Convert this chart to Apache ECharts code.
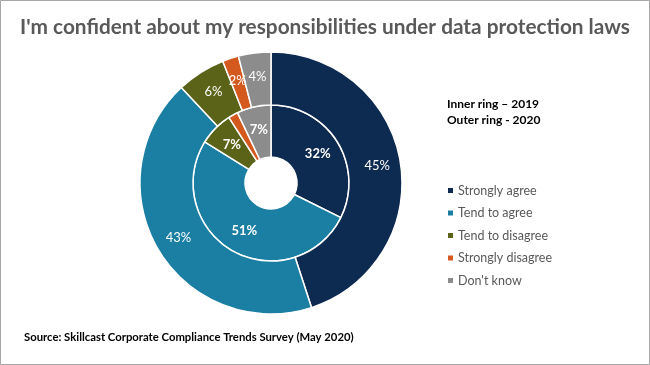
<!DOCTYPE html>
<html><head><meta charset="utf-8">
<script src="https://cdn.jsdelivr.net/npm/echarts@6/dist/echarts.min.js"></script>
<style>html,body{margin:0;padding:0;background:#fff}#c{width:650px;height:365px}</style>
</head><body><div id="c"></div>
<script>
const categories = ['Strongly agree', 'Tend to agree', 'Tend to disagree', 'Strongly disagree', "Don't know"];
const values2019 = [32, 51, 7, 2, 7];
const values2020 = [45, 43, 6, 2, 4];
const colors = ['#0d2a50', '#1a7fa3', '#5a6317', '#d4591f', '#8c8c8c'];

const chart = echarts.init(document.getElementById('c'), null, {renderer: 'canvas'});
const font = 'Lato, "Open Sans", sans-serif';
function mk(vals) { return categories.map((n, i) => ({name: n, value: vals[i]})); }
chart.setOption({
  animation: false,
  color: colors,
  title: {
    text: "I'm confident about my responsibilities under data protection laws",
    left: 'center', top: 12,
    textStyle: {fontFamily: font, fontSize: 20.8, fontWeight: 'bold', color: '#595959'}
  },
  legend: {
    orient: 'vertical', left: 441, top: 179,
    icon: 'rect', itemWidth: 7, itemHeight: 7, itemGap: 9.5,
    textStyle: {fontFamily: font, fontSize: 12.5, color: '#595959', padding: [0,0,0,-1]},
    data: categories, selectedMode: false
  },
  graphic: [
    {type: 'rect', shape: {x: 0.5, y: 0.5, width: 649, height: 364}, style: {fill: 'none', stroke: '#a6a6a6', lineWidth: 1}},
    {type: 'text', left: 447, top: 96, style: {text: 'Inner ring \u2013 2019\nOuter ring - 2020', fontFamily: font, fontSize: 12, fontWeight: 'bold', fill: '#000', lineHeight: 16}},
    {type: 'text', left: 24, top: 332, style: {text: 'Source: Skillcast Corporate Compliance Trends Survey (May 2020)', fontFamily: font, fontSize: 11.3, fontWeight: 'bold', fill: '#000'}}
  ],
  series: [
    {
      type: 'pie', name: '2019', center: [271, 183], radius: [26, 78],
      startAngle: 90, clockwise: true, avoidLabelOverlap: false,
      itemStyle: {borderColor: '#fff', borderWidth: 1.5},
      label: {position: 'inside', formatter: '{c}%', color: '#fff', fontFamily: font, fontSize: 13, fontWeight: 'bold'},
      labelLine: {show: false},
      data: mk(values2019)
    },
    {
      type: 'pie', name: '2020', center: [271, 183], radius: [78, 131],
      startAngle: 90, clockwise: true, avoidLabelOverlap: false,
      itemStyle: {borderColor: '#fff', borderWidth: 1.5},
      label: {position: 'inside', formatter: '{c}%', color: '#fff', fontFamily: font, fontSize: 13},
      labelLine: {show: false},
      data: mk(values2020)
    }
  ]
});
</script></body></html>
